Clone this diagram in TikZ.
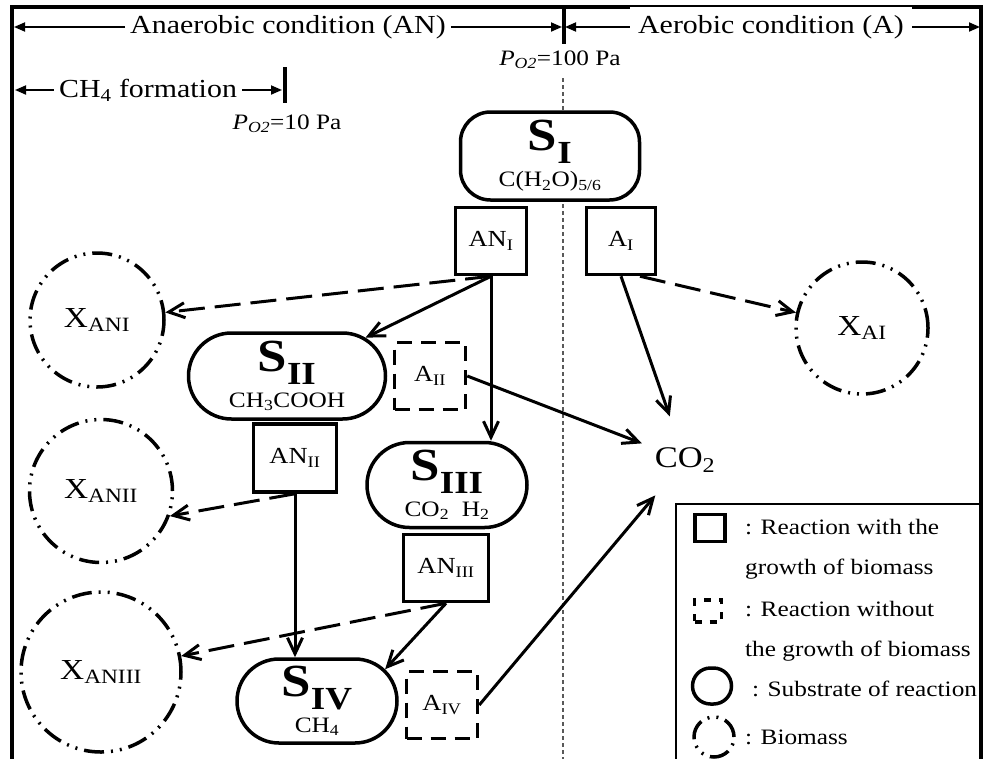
\documentclass[tikz,border=0pt]{standalone}
\usepackage{fontspec}
\setmainfont{Liberation Serif}[FakeStretch=1.15]
\usetikzlibrary{arrows.meta, shapes.misc}

\newcommand{\sbig}[1]{{\fontsize{46}{46}\selectfont\bfseries S\textsubscript{#1}}}
\newcommand{\chem}{\fontsize{22}{36}\selectfont}
\newcommand{\pox}{\textit{P}\textsubscript{\textit{O2}}}

\begin{document}
\begin{tikzpicture}[x=1pt, y=-1pt,
    frame/.style={line width=3.5pt},
    span/.style={line width=1.8pt, -{Triangle[length=11pt,width=9pt]}},
    spanlbl/.style={fill=white, inner sep=5pt, font=\fontsize{26}{30}\selectfont},
    tick/.style={line width=3.5pt},
    plbl/.style={font=\fontsize{22}{26}\selectfont},
    divider/.style={line width=1.4pt, gray!70!black, dash pattern=on 4pt off 3pt},
    rxn/.style={draw, fill=white, line width=3.5pt, minimum width=71pt, minimum height=67pt, inner sep=0pt, font=\fontsize{23}{26}\selectfont},
    rxnnb/.style={rxn, dash pattern=on 15pt off 9pt},
    substrate/.style={draw, fill=white, line width=3.5pt, rounded rectangle, align=center, inner sep=0pt, font=\fontsize{22}{36}\selectfont},
    biomass/.style={draw, circle, line width=3.5pt, dash pattern=on 20pt off 7pt on 2pt off 7pt on 2pt off 7pt, inner sep=0pt, font=\fontsize{29}{30}\selectfont},
    flow/.style={line width=3pt, -{Straight Barb[length=16pt,width=15pt]}},
    growth/.style={flow, dash pattern=on 26pt off 10pt},
    legendtxt/.style={anchor=west, align=left, inner sep=0pt, font=\fontsize{22}{40}\selectfont},
  ]
  \useasboundingbox (0,0) rectangle (987,758);

  % Frame
  \draw[frame] (12,770) -- (12,7) -- (981,7) -- (981,770);

  % Oxygen ranges
  \node[spanlbl] (anlbl) at (288,27) {Anaerobic condition (AN)};
  \coordinate (anL) at (14,27);
  \coordinate (anR) at (562,27);
  \draw[span] (anlbl) -- (anL);
  \draw[span] (anlbl) -- (anR);

  \node[spanlbl, inner sep=8pt] (albl) at (771,27) {Aerobic condition (A)};
  \coordinate (aL) at (565,27);
  \coordinate (aR) at (980,27);
  \draw[span] (albl) -- (aL);
  \draw[span] (albl) -- (aR);

  \coordinate (hundredtop) at (564,8);
  \coordinate (hundredbot) at (564,44);
  \draw[tick] (hundredtop) -- (hundredbot);
  \node[plbl] (p100) at (560,60) {\pox=100 Pa};

  \node[spanlbl] (ch4lbl) at (148,90) {CH\textsubscript{4} formation};
  \coordinate (chL) at (15,90);
  \coordinate (chR) at (282,90);
  \draw[span] (ch4lbl) -- (chL);
  \draw[span] (ch4lbl) -- (chR);

  \coordinate (tentop) at (285,67);
  \coordinate (tenbot) at (285,103);
  \draw[tick] (tentop) -- (tenbot);
  \node[plbl] (p10) at (287,124) {\pox=10 Pa};

  % Boundary AN / A
  \coordinate (divtop) at (563,78);
  \coordinate (divbot) at (563,760);
  \draw[divider] (divtop) -- (divbot);

  % Substrates
  \node[substrate, rectangle, rounded corners=30pt, minimum width=179pt, minimum height=88pt] (SI) at (550,156)
    {\sbig{I}\\\chem C(H\textsubscript{2}O)\textsubscript{5/6}};
  \node[substrate, minimum width=197pt, minimum height=86pt] (SII) at (287,376)
    {\sbig{II}\\\chem CH\textsubscript{3}COOH};
  \node[substrate, minimum width=160pt, minimum height=85pt] (SIII) at (447,485)
    {\sbig{III}\\\chem CO\textsubscript{2}\ \ H\textsubscript{2}};
  \node[substrate, minimum width=160pt, minimum height=84pt] (SIV) at (317,701)
    {\sbig{IV}\\\chem CH\textsubscript{4}};

  % Reactions
  \node[rxn] (ANI) at (491,241) {AN\textsubscript{I}};
  \node[rxn, minimum width=69pt] (AI) at (621,241) {A\textsubscript{I}};
  \node[rxnnb] (AII) at (430,376) {A\textsubscript{II}};
  \node[rxn, minimum width=83pt, minimum height=68pt] (ANII) at (295,458) {AN\textsubscript{II}};
  \node[rxn, minimum width=85pt] (ANIII) at (446,568) {AN\textsubscript{III}};
  \node[rxnnb] (AIV) at (442,705) {A\textsubscript{IV}};

  % Biomass
  \node[biomass, minimum size=134pt] (XANI) at (97,320) {X\textsubscript{ANI}};
  \node[biomass, minimum size=143pt] (XANII) at (101,491) {X\textsubscript{ANII}};
  \node[biomass, minimum size=160pt] (XANIII) at (101,672) {X\textsubscript{ANIII}};
  \node[biomass, minimum size=132pt] (XAI) at (862,328) {X\textsubscript{AI}};

  \node[circle, minimum size=92pt, inner sep=0pt, font=\fontsize{30}{32}\selectfont] (CO2) at (685,460) {CO\textsubscript{2}};

  % Connectors
  \draw[growth] (ANI.south) -- (XANI);
  \draw[flow] (ANI.south) -- (SII);
  \draw[flow] (ANI.south) -- (ANI.south |- SIII.north);
  \draw[growth] ([xshift=19pt]AI.south) -- (XAI);
  \draw[flow] (AI.south) -- (CO2);
  \draw[flow] (AII.east) -- (CO2);
  \draw[growth] (ANII.south) -- (XANII.-20);
  \draw[flow] (ANII.south) -- (ANII.south |- SIV.north);
  \draw[growth] (ANIII.south) -- (XANIII);
  \draw[flow] (ANIII.south) -- (SIV.25);
  \draw[flow] (AIV.east) -- (CO2);

  % Legend
  \draw[line width=1.4pt] (676,770) -- (676,504) -- (981,504);
  \node[draw, line width=3.5pt, minimum width=30pt, minimum height=27pt, inner sep=0pt] (keyrxn) at (710,528) {};
  \node[legendtxt] (keyrxntxt) at (745,549) {: Reaction with the\\growth of biomass};
  \node[draw, line width=3.5pt, dash pattern=on 7pt off 8pt, minimum width=27pt, minimum height=22pt, inner sep=0pt] (keynb) at (708,611) {};
  \node[legendtxt] (keynbtxt) at (745,631) {: Reaction without\\the growth of biomass};
  \node[draw, rounded rectangle, line width=3.5pt, minimum width=39pt, minimum height=36pt, inner sep=0pt] (keysub) at (712,686) {};
  \node[legendtxt] (keysubtxt) at (752,689) {: Substrate of reaction};
  \node[biomass, minimum size=40pt] (keybio) at (714,737) {};
  \node[legendtxt] (keybiotxt) at (745,737) {: Biomass};
\end{tikzpicture}
\end{document}
